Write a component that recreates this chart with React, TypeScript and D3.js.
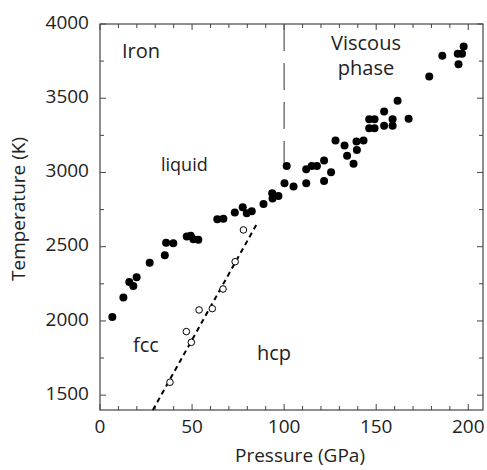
import React from 'react'
import * as d3 from 'd3'

// melting curve (filled) : pressure GPa, temperature K
const meltP = [6.7, 12.7, 15.9, 18.1, 19.9, 27.0, 35.2, 35.9, 39.8, 47.1, 49.3, 50.7, 53.4, 63.7, 67.0, 73.2, 77.5, 79.7, 82.4, 88.8, 93.7, 93.5, 96.9, 100.2, 101.4,
  105.1, 112.0, 112.0, 115.0, 117.8, 121.7, 121.7, 125.5, 127.9, 132.8, 134.2, 137.7, 139.3, 139.5, 143.1, 146.2, 149.1, 146.2, 149.1, 154.3, 154.3, 158.9, 158.9, 161.6, 167.6,
  178.8, 185.9, 194.7, 194.3, 196.6, 197.5]
const meltT = [2027, 2157, 2263, 2236, 2294, 2391, 2442, 2527, 2523, 2568, 2573, 2550, 2546, 2685, 2689, 2730, 2766, 2725, 2739, 2788, 2824, 2860, 2842, 2928, 3044,
  2905, 2928, 3021, 3044, 3044, 3080, 2943, 3001, 3215, 3181, 3112, 3058, 3208, 3152, 3215, 3359, 3359, 3298, 3298, 3410, 3314, 3359, 3314, 3483, 3361,
  3646, 3786, 3729, 3799, 3799, 3848]

// fcc-hcp transition (open)
const transP = [73.4, 66.8, 61.0, 53.8, 46.9, 49.6, 38.0, 77.9]
const transT = [2399, 2215, 2083, 2074, 1928, 1856, 1587, 2613]

const boundaryP = [28.7, 85]
const boundaryT = [1400, 2650]
const viscousP = [100, 100]
const viscousT = [4000, 2920]

const xMajor = [0, 50, 100, 150, 200]
const yMajor = [1500, 2000, 2500, 3000, 3500, 4000]

const font = '"Open Sans", sans-serif'

export default function App() {
  const width = 487
  const height = 470
  const margin = { left: 100, right: 4, top: 24, bottom: 60 }
  const x = d3.scaleLinear().domain([0, 208]).range([margin.left, width - margin.right])
  const y = d3.scaleLinear().domain([1400, 4000]).range([height - margin.bottom, margin.top])
  const [x0, x1] = x.range()
  const [y0, y1] = y.range()
  const axisColor = '#444'

  const xMinor = d3.range(0, 209, 10)
  const yMinor = d3.range(1500, 4001, 250)

  const line = d3.line<[number, number]>().x(d => x(d[0])).y(d => y(d[1]))

  return (
    <svg width={width} height={height} style={{ position: 'absolute', left: 0, top: 0 }}>
      <rect width={width} height={height} fill="white" />
      {/* ticks on all sides, inward */}
      {xMinor.map(v => {
        const len = xMajor.includes(v) ? 6 : 4
        return (
          <g key={'xt' + v} stroke={axisColor} strokeWidth={1}>
            <line x1={x(v)} x2={x(v)} y1={y0} y2={y0 - len} />
            <line x1={x(v)} x2={x(v)} y1={y1} y2={y1 + len} />
          </g>
        )
      })}
      {yMinor.map(v => {
        const len = yMajor.includes(v) ? 6 : 4
        return (
          <g key={'yt' + v} stroke={axisColor} strokeWidth={1}>
            <line x1={x0} x2={x0 + len} y1={y(v)} y2={y(v)} />
            <line x1={x1} x2={x1 - len} y1={y(v)} y2={y(v)} />
          </g>
        )
      })}
      <rect x={x0} y={y1} width={x1 - x0} height={y0 - y1} fill="none" stroke={axisColor} strokeWidth={1.2} />

      {xMajor.map(v => (
        <text key={'xl' + v} x={x(v)} y={y0 + 23} textAnchor="middle" fontFamily={font} fontSize={19} fill="#222">{v}</text>
      ))}
      {yMajor.map(v => (
        <text key={'yl' + v} x={x0 - 11} y={y(v) - 2} dy="0.35em" textAnchor="end" fontFamily={font} fontSize={19} fill="#222">{v}</text>
      ))}
      <text x={300} y={462} textAnchor="middle" fontFamily={font} fontSize={19} fill="#222">Pressure (GPa)</text>
      <text transform={`translate(25,209) rotate(-90)`} textAnchor="middle" fontFamily={font} fontSize={19} fill="#222">Temperature (K)</text>

      <path d={line(viscousP.map((p, i) => [p, viscousT[i]]) as [number, number][]) || ''} stroke="#555" strokeWidth={1.2} strokeDasharray="27,12" fill="none" />
      <path d={line(boundaryP.map((p, i) => [p, boundaryT[i]]) as [number, number][]) || ''} stroke="black" strokeWidth={2} strokeDasharray="5,4" fill="none" />

      {meltP.map((p, i) => (
        <circle key={'m' + i} cx={x(p)} cy={y(meltT[i])} r={4} fill="black" />
      ))}
      {transP.map((p, i) => (
        <circle key={'t' + i} cx={x(p)} cy={y(transT[i])} r={3.3} fill="white" stroke="black" strokeWidth={1} />
      ))}

      <text x={122} y={58} fontFamily={font} fontSize={20} fill="#222">Iron</text>
      <text x={161} y={171} fontFamily={font} fontSize={18} fill="#222">liquid</text>
      <text x={366} y={50} textAnchor="middle" fontFamily={font} fontSize={20} fill="#222">Viscous</text>
      <text x={366} y={75} textAnchor="middle" fontFamily={font} fontSize={20} fill="#222">phase</text>
      <text x={133} y={352} fontFamily={font} fontSize={20} fill="#222">fcc</text>
      <text x={257} y={360} fontFamily={font} fontSize={20} fill="#222">hcp</text>
    </svg>
  )
}
